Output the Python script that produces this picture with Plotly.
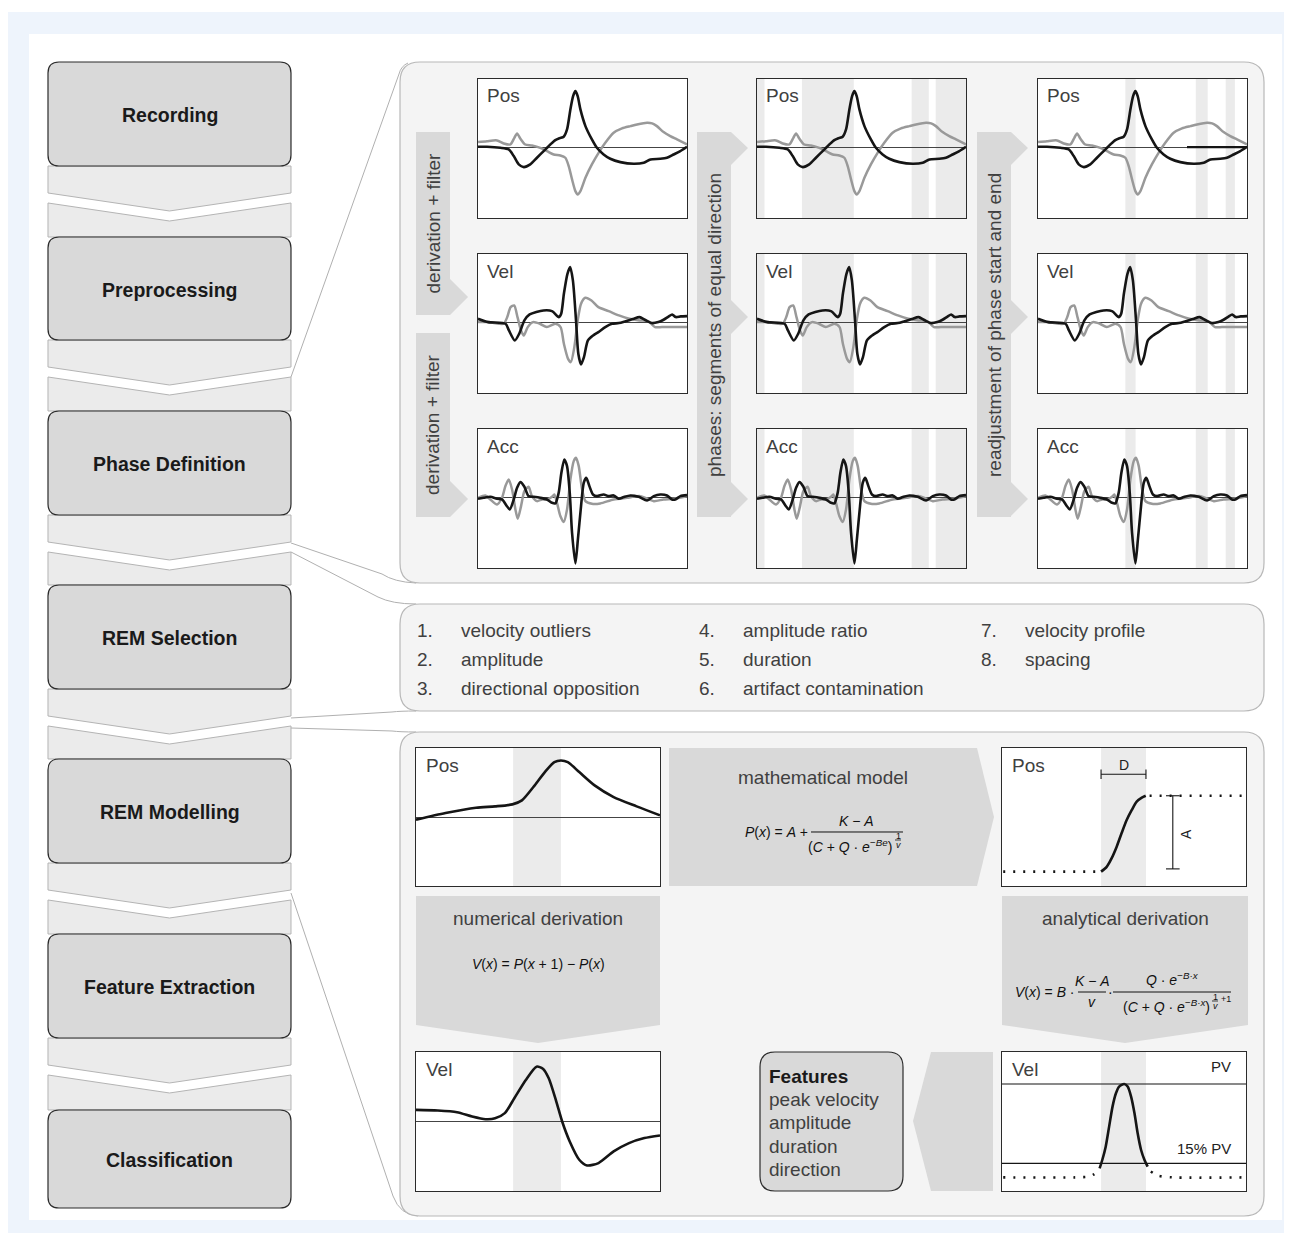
import plotly.graph_objects as go

# reference canvas (pixels) and the browser's default 8px page margin
W, H = 1292, 1233
OFF = 8
FW, FH = W - OFF, H - OFF

# ---------------- data ----------------
stage_labels = ["Recording", "Preprocessing", "Phase Definition", "REM Selection",
                "REM Modelling", "Feature Extraction", "Classification"]
signal_names = ["Pos", "Vel", "Acc"]
criteria_numbers = ["1.", "2.", "3.", "4.", "5.", "6.", "7.", "8."]
criteria_labels = ["velocity outliers", "amplitude", "directional opposition",
                   "amplitude ratio", "duration", "artifact contamination",
                   "velocity profile", "spacing"]
feature_labels = ["peak velocity", "amplitude", "duration", "direction"]
arrow_labels = ["derivation + filter", "phases: segments of equal direction",
                "readjustment of phase start and end"]

# recorded signals (x: % of window, y: normalised amplitude)
pos_black_x = [0, 4.3, 10.7, 14.7, 17.1, 19.5, 21.9, 25.0, 28.2, 31.4, 34.6, 37.0, 39.1, 41.0, 42.6, 44.2, 45.5,
               46.6, 47.7, 49.0, 51.4, 54.5, 56.9, 60.1, 63.3, 68.1, 74.5, 79.3, 82.5, 87.2, 90.4, 93.6, 96.8, 100]
pos_black_y = [0.005, 0.005, -0.01, -0.034, -0.129, -0.249, -0.288, -0.249, -0.153, -0.058, 0.038, 0.101, 0.129,
               0.149, 0.254, 0.542, 0.734, 0.806, 0.734, 0.542, 0.302, 0.110, -0.01, -0.106, -0.168, -0.216, -0.240,
               -0.225, -0.177, -0.168, -0.153, -0.106, -0.058, 0.005]
pos_gray_x = [0, 4.3, 9.1, 12.3, 15.5, 17.4, 18.7, 20.3, 22.6, 25.8, 29.8, 33.0, 36.2, 39.4, 41.8, 43.4, 45.0, 46.6,
              47.7, 49.0, 51.4, 54.5, 57.7, 60.9, 64.9, 68.9, 72.9, 76.1, 80.9, 83.3, 85.6, 88.8, 92.0, 95.2, 100]
pos_gray_y = [0.072, 0.086, 0.096, 0.053, 0.038, 0.134, 0.197, 0.120, 0.038, 0.024, -0.010, -0.058, -0.106, -0.120,
              -0.153, -0.273, -0.465, -0.633, -0.681, -0.633, -0.441, -0.249, -0.082, 0.062, 0.206, 0.269, 0.302,
              0.326, 0.350, 0.341, 0.302, 0.216, 0.158, 0.110, 0.038]
vel_black_x = [0, 4.9, 13.2, 14.8, 17.6, 19.7, 22.2, 24.7, 31.3, 35.4, 38.7, 39.8, 41.1, 42.8, 44.1, 45.4, 46.9, 48.0,
               49.3, 50.7, 52.6, 55.1, 57.6, 60.9, 64.1, 67.4, 70.7, 74.0, 77.3, 79.8, 83.1, 86.3, 88.8, 91.3, 92.9,
               94.6, 97.0, 100]
vel_black_y = [0.048, 0, -0.024, -0.12, -0.264, -0.168, 0.024, 0.11, 0.168, 0.158, 0.072, 0.12, 0.408, 0.695, 0.791,
               0.6, 0.024, -0.456, -0.609, -0.504, -0.264, -0.192, -0.144, -0.072, -0.024, -0.014, 0.014, 0.043,
               0.072, 0.034, -0.014, 0, 0.034, 0.082, 0.11, 0.072, 0.082, 0.086]
vel_gray_x = [0, 4.9, 9.9, 12.3, 14.0, 15.6, 17.3, 18.9, 20.6, 21.9, 23.8, 26.3, 29.6, 32.9, 37.0, 39.5, 41.1, 43.1,
              44.4, 46.1, 47.7, 49.3, 51.3, 54.3, 57.6, 62.5, 67.4, 72.4, 77.3, 81.4, 84.7, 88.0, 93.8, 100]
vel_gray_y = [0, 0, -0.024, -0.024, 0.072, 0.216, 0.24, 0.072, -0.12, -0.192, -0.072, 0, -0.024, -0.072, -0.024,
              -0.072, -0.312, -0.528, -0.576, -0.36, 0.024, 0.264, 0.35, 0.312, 0.216, 0.158, 0.096, 0.048, 0.024,
              0.014, -0.072, -0.072, -0.072, -0.072]
acc_black_x = [0, 2.7, 5.9, 9.1, 11.5, 13.6, 15.2, 17.1, 18.7, 20.3, 22.2, 24.2, 26.6, 29.8, 33.0, 35.4, 37.0, 38.6,
               39.9, 41.3, 42.6, 43.9, 45.0, 46.6, 47.8, 49.3, 50.6, 51.8, 53.3, 55.0, 56.9, 60.1, 62.5, 64.9, 67.3,
               69.7, 72.9, 76.9, 80.9, 84.1, 87.2, 90.4, 92.8, 94.4, 96.8, 100]
acc_black_y = [-0.024, -0.01, 0.005, -0.024, -0.034, -0.12, -0.177, -0.034, 0.134, 0.216, 0.149, 0.014, 0.005, -0.01,
               -0.034, -0.082, -0.091, 0.062, 0.35, 0.542, 0.446, 0.062, -0.513, -0.954, -0.609, -0.129, 0.206, 0.278,
               0.158, 0.038, 0.014, 0.038, 0.014, 0.024, -0.024, 0, 0.024, 0.005, -0.048, 0.014, 0.038, 0.024, -0.034,
               -0.034, 0.014, 0.029]
acc_gray_x = [0, 3.5, 5.9, 9.1, 11.5, 13.1, 14.7, 16.3, 17.9, 19.0, 20.6, 22.2, 24.2, 25.8, 28.2, 30.6, 33.0, 35.4,
              36.5, 37.8, 39.4, 41.0, 42.6, 44.2, 45.8, 46.9, 48.2, 49.8, 51.4, 54.5, 58.5, 64.9, 71.3, 77.7, 84.1,
              88.8, 93.6, 100]
acc_gray_y = [-0.01, 0.024, -0.034, -0.106, -0.01, 0.158, 0.254, 0.110, -0.177, -0.311, -0.129, 0.086, 0.149, 0.014,
              -0.058, -0.034, -0.034, 0.005, 0.038, -0.082, -0.273, -0.359, -0.177, 0.254, 0.518, 0.566, 0.446, 0.110,
              -0.058, -0.096, -0.091, -0.034, -0.01, 0.014, -0.058, -0.034, -0.024, 0.014]

# phase segments (% of window)
phase_bands = [(0, 3.6), (21.5, 46.3), (74.0, 82.2), (85.5, 100)]
readjusted_bands = [(41.8, 46.7), (75.5, 81.2), (89.8, 94.2)]
readjusted_end = (71.3, 100)

# modelling panel
model_band = (39.8, 59.4)
model_pos_x = [0, 12.1, 24.6, 32.4, 39.5, 43.4, 48.1, 52.8, 56.7, 59.4, 62.2, 66.9, 73.2, 81.0, 90.4, 100]
model_pos_y = [-0.039, 0.058, 0.135, 0.154, 0.183, 0.241, 0.434, 0.651, 0.795, 0.819, 0.795, 0.651, 0.458, 0.289,
               0.154, 0.024]
model_vel_x = [0, 8.9, 16.8, 23.0, 28.5, 32.4, 36.4, 40.3, 45.0, 49.4, 52.0, 54.4, 57.5, 59.9, 63.0, 66.9, 70.1, 74.8,
               81.0, 87.3, 93.6, 100]
model_vel_y = [0.167, 0.158, 0.134, 0.072, 0.033, 0.045, 0.12, 0.335, 0.598, 0.789, 0.76, 0.622, 0.287, 0, -0.287,
               -0.55, -0.632, -0.598, -0.431, -0.311, -0.239, -0.201]
fit_band = (40.6, 59.0)
fit_pos_x = [40.6, 42.9, 44.9, 47.0, 49.0, 51.1, 53.2, 55.2, 57.3, 58.9]
fit_pos_y = [0.104, 0.139, 0.2, 0.285, 0.382, 0.478, 0.551, 0.611, 0.64, 0.654]
fit_pos_pre_x = [0.5, 39.5]
fit_pos_post_x = [60.5, 100]
fit_vel_x = [40.0, 41.1, 42.5, 43.9, 45.3, 46.7, 48.0, 50.1, 51.5, 52.9, 54.3, 55.6, 57.0, 58.4, 59.7]
fit_vel_y = [0.163, 0.223, 0.319, 0.463, 0.607, 0.703, 0.751, 0.770, 0.751, 0.679, 0.559, 0.415, 0.295, 0.223, 0.175]
fit_vel_pre_x = [0.5, 30, 36, 39]
fit_vel_pre_y = [0.098, 0.098, 0.105, 0.135]
fit_vel_post_x = [61, 64, 70, 100]
fit_vel_post_y = [0.14, 0.11, 0.098, 0.098]
vel_threshold = 0.15

# ---------------- helpers ----------------
FONT = "Liberation Sans"
TXT = "#404040"
shapes, anns, traces = [], [], []
layout_axes = {}


def fx(x):
    return (x - OFF) / FW


def fy(y):
    return 1 - (y - OFF) / FH


def P(x, y):
    return f"{fx(x):.5f},{fy(y):.5f}"


def path_shape(d, fill=None, line=None, lw=1.0):
    s = dict(type="path", xref="paper", yref="paper", path=d, layer="below",
             line=dict(color=line if line else "rgba(0,0,0,0)", width=lw if line else 0),
             fillcolor=fill if fill else "rgba(0,0,0,0)")
    shapes.append(s)


def polygon(pts, fill, line=None, lw=1.0):
    path_shape("M " + " L ".join(P(x, y) for x, y in pts) + " Z", fill, line, lw)


def polyline(pts, color, lw=1.0):
    path_shape("M " + " L ".join(P(x, y) for x, y in pts), None, color, lw)


def curve(d_pts, color, lw=1.0):
    parts = []
    for seg in d_pts:
        cmd, coords = seg[0], seg[1:]
        parts.append(cmd + " " + " ".join(P(coords[i], coords[i + 1]) for i in range(0, len(coords), 2)))
    path_shape(" ".join(parts), None, color, lw)


def rrect(x0, y0, x1, y1, r, fill, line=None, lw=1.0):
    d = (f"M {P(x0 + r, y0)} L {P(x1 - r, y0)} Q {P(x1, y0)} {P(x1, y0 + r)} L {P(x1, y1 - r)} "
         f"Q {P(x1, y1)} {P(x1 - r, y1)} L {P(x0 + r, y1)} Q {P(x0, y1)} {P(x0, y1 - r)} "
         f"L {P(x0, y0 + r)} Q {P(x0, y0)} {P(x0 + r, y0)} Z")
    path_shape(d, fill, line, lw)


def text(x, y, s, size=19, color=TXT, xanchor="center", yanchor="middle", angle=0):
    anns.append(dict(x=fx(x), y=fy(y), xref="paper", yref="paper", text=s, showarrow=False,
                     xanchor=xanchor, yanchor=yanchor, textangle=angle, borderpad=0,
                     font=dict(family=FONT, size=size, color=color)))


n_charts = [0]


def add_chart(box, yrange, zeroline=True, bands=()):
    n_charts[0] += 1
    i = n_charts[0]
    sfx = "" if i == 1 else str(i)
    x0, y0, x1, y1 = box
    polygon([(x0, y0), (x1, y0), (x1, y1), (x0, y1)], "white")
    layout_axes[f"xaxis{sfx}"] = dict(domain=[fx(x0), fx(x1)], range=[0, 100], anchor=f"y{sfx}",
                                      showline=True, mirror=True, linecolor="#2b2b2b", linewidth=1.4,
                                      showgrid=False, zeroline=False, showticklabels=False, ticks="",
                                      fixedrange=True)
    layout_axes[f"yaxis{sfx}"] = dict(domain=[fy(y1), fy(y0)], range=list(yrange), anchor=f"x{sfx}",
                                      showline=True, mirror=True, linecolor="#2b2b2b", linewidth=1.4,
                                      showgrid=False, zeroline=zeroline, zerolinecolor="#444444",
                                      zerolinewidth=1, showticklabels=False, ticks="", fixedrange=True)
    xa, ya = f"x{sfx}", f"y{sfx}"
    for b0, b1 in bands:
        shapes.append(dict(type="rect", xref=xa, yref=ya, x0=b0, x1=b1, y0=yrange[0], y1=yrange[1],
                           fillcolor="#ebebeb", line=dict(width=0), layer="below"))
    return xa, ya


def line_trace(xa, ya, xs, ys, color, width, spline=True, dash=None):
    ln = dict(color=color, width=width)
    if spline:
        ln.update(shape="spline", smoothing=0.7)
    if dash:
        ln["dash"] = dash
    traces.append(go.Scatter(x=xs, y=ys, mode="lines", line=ln, xaxis=xa, yaxis=ya,
                             showlegend=False, hoverinfo="skip"))


# ---------------- background ----------------
polygon([(OFF, 12), (W, 12), (W, H), (OFF, H)], "#eef4fc")
polygon([(29, 34), (1282, 34), (1282, 1220), (29, 1220)], "white")

# ---------------- left process column ----------------
box_tops = [62, 237, 411, 585, 759, 934, 1110]
box_bottoms = [166, 340, 515, 689, 863, 1038, 1208]
CL, CR = 48, 291
CM = (CL + CR) / 2
for i in range(len(box_tops) - 1):
    b, t = box_bottoms[i], box_tops[i + 1]
    polygon([(CL, b), (CR, b), (CR, b + 27), (CM, b + 45), (CL, b + 27)], "#ebebeb", "#b4b4b4", 1)
    polygon([(CL, b + 37), (CM, b + 55), (CR, b + 37), (CR, t), (CL, t)], "#ebebeb", "#b4b4b4", 1)
for lab, t, b in zip(stage_labels, box_tops, box_bottoms):
    rrect(CL, t, CR, b, 11, "#d9d9d9", "#2b2b2b", 1.2)
    text(CM, (t + b) / 2 + 1, f"<b>{lab}</b>", 19.5, "#1a1a1a")

# ---------------- connectors ----------------
GRAY_LN = "#b0b0b0"
curve([("M", 291, 377), ("L", 399, 74), ("Q", 401, 66, 408, 63)], GRAY_LN, 1)
curve([("M", 291, 543), ("L", 382, 574), ("Q", 394, 582, 416, 583)], GRAY_LN, 1)
curve([("M", 291, 552), ("L", 378, 597), ("Q", 392, 604, 416, 604)], GRAY_LN, 1)
curve([("M", 291, 718), ("L", 392, 712), ("Q", 400, 711, 416, 711)], GRAY_LN, 1)
curve([("M", 291, 728), ("L", 392, 731), ("Q", 400, 732, 416, 732)], GRAY_LN, 1)
curve([("M", 291, 893), ("L", 393, 1196), ("Q", 400, 1215, 418, 1216)], GRAY_LN, 1)

# ---------------- panels ----------------
PANEL_FILL, PANEL_LINE = "#f4f4f4", "#b8b8b8"
rrect(400, 62, 1264, 583, 20, PANEL_FILL, PANEL_LINE, 1.2)
rrect(400, 604, 1264, 711, 20, PANEL_FILL, PANEL_LINE, 1.2)
rrect(400, 732, 1264, 1216, 20, PANEL_FILL, PANEL_LINE, 1.2)

BAR = "#d9d9d9"
for top, bot in [(132, 315), (333, 517)]:
    polygon([(416, top), (450, top), (450, bot - 36), (468, bot - 18), (450, bot), (416, bot)], BAR)
    text(433, (top + bot) / 2, arrow_labels[0], 19, TXT, angle=-90)
tips = [148, 317, 499]
for xb, lab in [(697, arrow_labels[1]), (977, arrow_labels[2])]:
    pts = [(xb, 132), (xb + 34, 132)]
    pts += [(xb + 51, tips[0]), (xb + 34, tips[0] + 17)]
    for tp in tips[1:]:
        pts += [(xb + 34, tp - 17), (xb + 51, tp), (xb + 34, tp + 17)]
    pts += [(xb + 34, 517), (xb, 517)]
    polygon(pts, BAR)
    text(xb + 17, 325, lab, 19, TXT, angle=-90)

# ---------------- signal charts ----------------
col_x = [478, 757, 1038]
row_y = [79, 254, 429]
CW, CH = 209, 139
SIG_RANGE = (-1.02, 0.98)
signals = [((pos_gray_x, pos_gray_y), (pos_black_x, pos_black_y)),
           ((vel_gray_x, vel_gray_y), (vel_black_x, vel_black_y)),
           ((acc_gray_x, acc_gray_y), (acc_black_x, acc_black_y))]
col_bands = [(), phase_bands, readjusted_bands]
for c, cx in enumerate(col_x):
    for r, ry in enumerate(row_y):
        xa, ya = add_chart((cx, ry, cx + CW, ry + CH), SIG_RANGE, True, col_bands[c])
        (gx, gy), (bx, by) = signals[r]
        line_trace(xa, ya, gx, gy, "#999999", 2.5)
        line_trace(xa, ya, bx, by, "#151515", 2.6)
        if c == 2 and r == 0:
            line_trace(xa, ya, list(readjusted_end), [0, 0], "#151515", 2.4, spline=False)
        text(cx + 8, ry + 17, signal_names[r], 19, TXT, xanchor="left")

# ---------------- REM selection list ----------------
col_num_x = [416, 698, 980]
row_list_y = [630, 659, 688]
for k, (num, lab) in enumerate(zip(criteria_numbers, criteria_labels)):
    c, r = k // 3, k % 3
    text(col_num_x[c], row_list_y[r], num, 19, TXT, xanchor="left")
    text(col_num_x[c] + 44, row_list_y[r], lab, 19, TXT, xanchor="left")

# ---------------- modelling panel ----------------
polygon([(669, 748), (977, 748), (994, 817), (977, 886), (669, 886)], BAR)
polygon([(416, 896), (660, 896), (660, 1025), (538, 1043), (416, 1025)], BAR)
polygon([(1002, 896), (1248, 896), (1248, 1025), (1125, 1043), (1002, 1025)], BAR)
polygon([(931, 1052), (993, 1052), (993, 1191), (931, 1191), (913, 1121)], BAR)
rrect(760, 1052, 903, 1191, 15, "#d9d9d9", "#2b2b2b", 1.2)

text(823, 777, "mathematical model", 19, TXT)
text(538, 918, "numerical derivation", 19, TXT)
text(1125, 918, "analytical derivation", 19, TXT)

FM = "#111111"
text(809, 832, "<i>P</i>(<i>x</i>) = <i>A</i> +", 14, FM, xanchor="right")
polyline([(811, 832), (903, 832)], FM, 1)
text(856, 821, "<i>K</i> − <i>A</i>", 14, FM)
text(850, 846, "(<i>C</i> + <i>Q</i> · <i>e</i><sup>−<i>Be</i></sup>)", 14, FM)
text(898, 836, "1", 9, FM)
polyline([(895, 840), (901, 840)], FM, 0.8)
text(898, 845, "<i>v</i>", 9, FM)
text(538, 964, "<i>V</i>(<i>x</i>) = <i>P</i>(<i>x</i> + 1) − <i>P</i>(<i>x</i>)", 14, FM)
text(1076, 992, "<i>V</i>(<i>x</i>) = <i>B</i> ·", 14, FM, xanchor="right")
text(1092, 981, "<i>K</i> − <i>A</i>", 14, FM)
polyline([(1078, 992), (1106, 992)], FM, 1)
text(1092, 1002, "<i>v</i>", 14, FM)
text(1110, 992, "·", 14, FM)
text(1172, 979, "<i>Q</i> · <i>e</i><sup>−<i>B·x</i></sup>", 14, FM)
polyline([(1113, 992), (1231, 992)], FM, 1)
text(1166, 1006, "(<i>C</i> + <i>Q</i> · <i>e</i><sup>−<i>B·x</i></sup>)", 14, FM)
text(1215, 997, "1", 9, FM)
polyline([(1212, 1001), (1218, 1001)], FM, 0.8)
text(1215, 1006, "<i>v</i>", 9, FM)
text(1226, 999, "+1", 9, FM)

text(768, 1076, "<b>Features</b>", 19, "#1a1a1a", xanchor="left")
for k, lab in enumerate(feature_labels):
    text(768, 1099.5 + 23.3 * k, lab, 19, TXT, xanchor="left")

xa, ya = add_chart((416, 748, 660, 886), (-1, 1), True, [model_band])
line_trace(xa, ya, model_pos_x, model_pos_y, "#151515", 2.6)
text(425, 765, "Pos", 19, TXT, xanchor="left")
xa, ya = add_chart((416, 1052, 660, 1191), (-1, 1), True, [model_band])
line_trace(xa, ya, model_vel_x, model_vel_y, "#151515", 2.6)
text(425, 1069, "Vel", 19, TXT, xanchor="left")

xa, ya = add_chart((1002, 748, 1246, 886), (0, 1), False, [fit_band])
lo, hi = fit_pos_y[0], fit_pos_y[-1]
line_trace(xa, ya, fit_pos_pre_x, [lo, lo], "#151515", 2.6, spline=False, dash="2px,8px")
line_trace(xa, ya, fit_pos_post_x, [hi, hi], "#151515", 2.6, spline=False, dash="2px,8px")
line_trace(xa, ya, fit_pos_x, fit_pos_y, "#151515", 2.6)
d_lvl, tk = 0.81, 0.035
line_trace(xa, ya, [fit_band[0], fit_band[1], None, fit_band[0], fit_band[0], None, fit_band[1], fit_band[1]],
           [d_lvl, d_lvl, None, d_lvl - tk, d_lvl + tk, None, d_lvl - tk, d_lvl + tk], "#151515", 1.1, spline=False)
a_x = 70
line_trace(xa, ya, [a_x, a_x, None, a_x - 2.8, a_x + 2.8, None, a_x - 2.8, a_x + 2.8],
           [lo + 0.02, hi, None, hi, hi, None, lo + 0.02, lo + 0.02], "#151515", 1.1, spline=False)
anns.append(dict(x=(fit_band[0] + fit_band[1]) / 2, y=d_lvl + 0.07, xref=xa, yref=ya, text="D", showarrow=False,
                 font=dict(family=FONT, size=14, color="#222")))
anns.append(dict(x=a_x + 1.0, y=(lo + hi) / 2, xref=xa, yref=ya, text="A", showarrow=False, textangle=-90,
                 xanchor="left", font=dict(family=FONT, size=14, color="#222")))
text(1011, 765, "Pos", 19, TXT, xanchor="left")

xa, ya = add_chart((1002, 1052, 1246, 1191), (0, 1), False, [fit_band])
pv = max(fit_vel_y)
base = min(fit_vel_pre_y)
thr = base + vel_threshold * (pv - base)
line_trace(xa, ya, [0, 100], [pv, pv], "#151515", 1.1, spline=False)
line_trace(xa, ya, [0, 100], [thr, thr], "#151515", 1.1, spline=False)
line_trace(xa, ya, fit_vel_pre_x, fit_vel_pre_y, "#151515", 2.6, dash="2px,8px")
line_trace(xa, ya, fit_vel_post_x, fit_vel_post_y, "#151515", 2.6, dash="2px,8px")
line_trace(xa, ya, fit_vel_x, fit_vel_y, "#151515", 2.6)
anns.append(dict(x=94.5, y=pv + 0.05, xref=xa, yref=ya, text="PV", showarrow=False, xanchor="right",
                 yanchor="bottom", font=dict(family=FONT, size=15, color="#222")))
anns.append(dict(x=94.5, y=thr + 0.03, xref=xa, yref=ya, text="15% PV", showarrow=False, xanchor="right",
                 yanchor="bottom", font=dict(family=FONT, size=15, color="#222")))
text(1011, 1069, "Vel", 19, TXT, xanchor="left")

fig = go.Figure(data=traces)
fig.update_layout(width=FW, height=FH, margin=dict(l=0, r=0, t=0, b=0), paper_bgcolor="white",
                  plot_bgcolor="rgba(0,0,0,0)", showlegend=False, shapes=shapes, annotations=anns,
                  font=dict(family=FONT), **layout_axes)
fig.write_html("out.html", config={"displayModeBar": False})
